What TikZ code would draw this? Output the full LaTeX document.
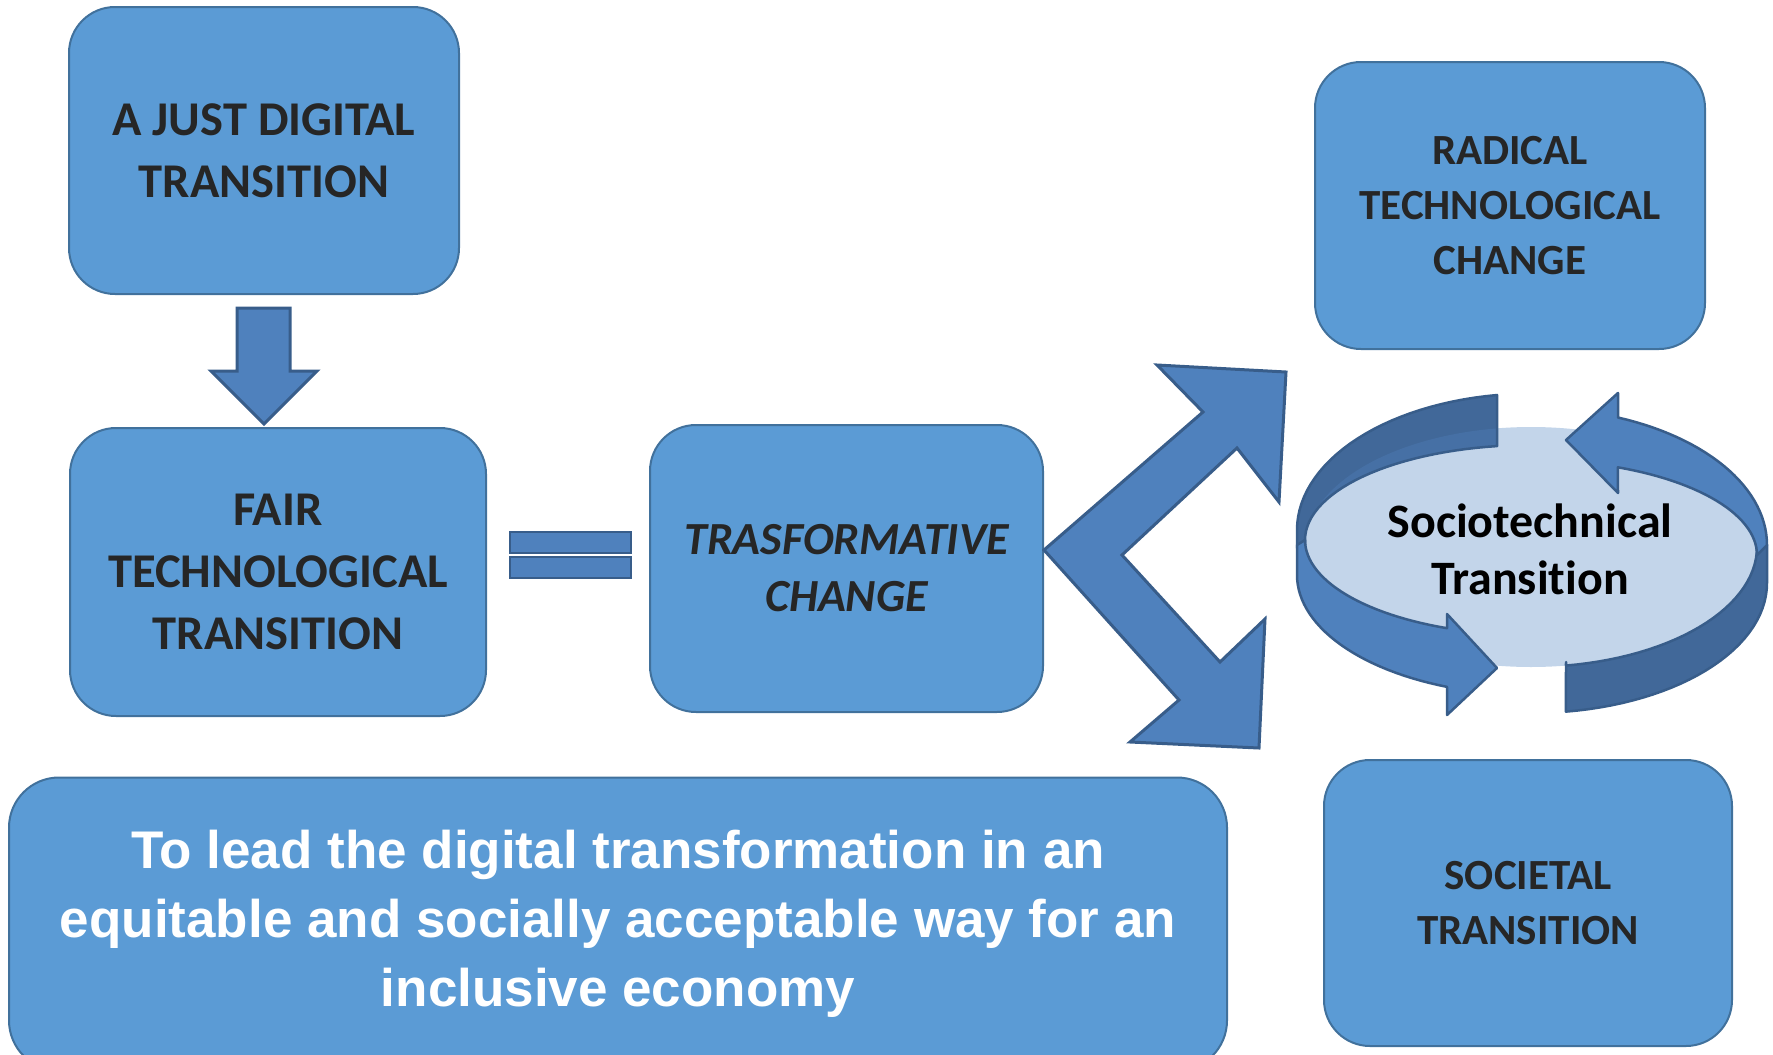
\documentclass[tikz,border=0pt]{standalone}
\usepackage{fontspec}
\setmainfont{Carlito}
\newfontfamily\carlito[Ligatures=NoCommon]{Carlito}
\newfontfamily\headsans{Liberation Sans}
\usetikzlibrary{calc}
\definecolor{boxfill}{HTML}{5B9BD5}
\definecolor{boxline}{HTML}{41719C}
\definecolor{arrfill}{HTML}{4F81BD}
\definecolor{arrline}{HTML}{385D8A}
\definecolor{ringdark}{HTML}{416899}
\definecolor{ringmid}{HTML}{4670A5}
\definecolor{ringlight}{HTML}{C3D5EA}
\definecolor{txt}{HTML}{262626}
\begin{document}
\begin{tikzpicture}[x=1pt,y=-1pt,
  box/.style={draw=boxline, fill=boxfill, line width=2pt, rounded corners=46pt,
    text=txt, align=center, inner sep=0pt},
  bigtxt/.style={font=\carlito\bfseries\fontsize{48.5}{62}\selectfont},
  midtxt/.style={font=\carlito\bfseries\fontsize{43}{55}\selectfont},
  blockarrow/.style={fill=arrfill, draw=arrline, line width=3pt, line join=miter},
  ring/.style={draw=arrline, line width=2.5pt, line join=round},
]
\useasboundingbox (0,0) rectangle (1773,1055);
\clip (0,0) rectangle (1773,1055);

% boxes
\node[box, bigtxt, minimum width=390pt, minimum height=287pt] (just) at (264,150.5)
  {A JUST DIGITAL\\TRANSITION};
\node[box, bigtxt, minimum width=416pt, minimum height=288pt] (fair) at (278,572)
  {FAIR\\TECHNOLOGICAL\\TRANSITION};
\node[box, font=\carlito\bfseries\itshape\fontsize{46}{57}\selectfont,
  minimum width=393pt, minimum height=287pt] (tc) at (846.5,568.5)
  {TRASFORMATIVE\\CHANGE};
\node[box, midtxt, minimum width=390pt, minimum height=287pt] (radical) at (1510,205.5)
  {RADICAL\\TECHNOLOGICAL\\CHANGE};
\node[box, midtxt, minimum width=408pt, minimum height=286pt] (societal) at (1528,903)
  {SOCIETAL\\TRANSITION};
\node[box, text=white, font=\headsans\bfseries\fontsize{53}{69}\selectfont,
  minimum width=1218pt, minimum height=293pt, rounded corners=50pt] (goal) at (618,924)
  {To lead the digital transformation in an\\equitable and socially acceptable way for an\\inclusive economy};

% down block arrow
\draw[blockarrow] ($(just.south)+(-27,13)$) -- ($(just.south)+(26,13)$)
  -- ($(just.south)+(26,76)$) -- ($(just.south)+(53,76)$)
  -- ($(just.south)+(0,129)$) -- ($(just.south)+(-53,76)$)
  -- ($(just.south)+(-27,76)$) -- cycle;

% equals sign
\draw[blockarrow, line width=2.5pt] (510,532) rectangle (631,553);
\draw[blockarrow, line width=2.5pt] (510,557) rectangle (631,578);

% chevron double arrow
\draw[blockarrow] (1044,550) -- (1203,412) -- (1157,365) -- (1286,372) -- (1279,502)
  -- (1237,448) -- (1122,555) -- (1220,662) -- (1265,619) -- (1259,748)
  -- (1130,742) -- (1179,700) -- cycle;

% cycle graphic
\fill[ringlight] (1531,547) ellipse[x radius=226, y radius=120];

\path[ring, fill=ringdark] (1767,545) -- (1767,583)
  -- plot[domain=0:81.7, samples=30] ({1532+235*cos(\x)},{583+130*sin(\x)})
  -- (1566,662)
  -- plot[domain=81.1:0, samples=30] ({1531+226*cos(\x)},{547+120*sin(\x)})
  -- cycle;

\fill[ringdark] (1497,395)
  -- plot[domain=261.4:180, samples=30] ({1532+235*cos(\x)},{530+136.5*sin(\x)})
  -- (1297,548) -- (1305,545)
  -- plot[domain=180:261.4, samples=30] ({1531+226*cos(\x)},{540+95*sin(\x)})
  -- cycle;
\fill[ringmid]
  plot[domain=200:261.4, samples=30] ({1531+226*cos(\x)},{547+120*sin(\x)})
  -- plot[domain=261.4:200, samples=30] ({1531+226*cos(\x)},{540+95*sin(\x)})
  -- cycle;
\draw[ring] (1497,395)
  -- plot[domain=261.4:180, samples=30] ({1532+235*cos(\x)},{530+136.5*sin(\x)})
  -- (1297,548) -- (1305,545)
  -- plot[domain=180:261.4, samples=30] ({1531+226*cos(\x)},{540+95*sin(\x)})
  -- cycle;

\path[ring, fill=arrfill] (1297,545) -- (1297,575)
  -- plot[domain=180:111.2, samples=30] ({1532+235*cos(\x)},{575+120*sin(\x)})
  -- (1447,715) -- (1497,668) -- (1447,614) -- (1447,628)
  -- plot[domain=111.8:180, samples=30] ({1531+226*cos(\x)},{540+95*sin(\x)})
  -- cycle;

\path[ring, fill=arrfill] (1566,440) -- (1618,393) -- (1618,417.5)
  -- plot[domain=291.5:360, samples=30] ({1532+235*cos(\x)},{545+137*sin(\x)})
  -- (1757,555)
  -- plot[domain=360:292.6, samples=30] ({1531+226*cos(\x)},{555+95*sin(\x)})
  -- (1618,493) -- cycle;

\node[align=center, text=black, inner sep=0pt,
  font=\carlito\bfseries\fontsize{48}{57}\selectfont] (socio) at (1530,549)
  {Sociotechnical\\Transition};
\end{tikzpicture}
\end{document}
